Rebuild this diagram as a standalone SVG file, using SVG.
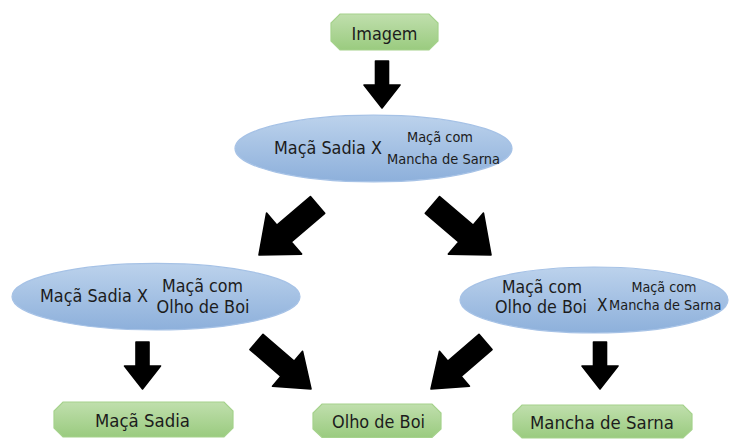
<svg xmlns="http://www.w3.org/2000/svg" xmlns:xlink="http://www.w3.org/1999/xlink" width="733" height="439" viewBox="0 0 733 439">
  <defs>
    <linearGradient id="gBlue" x1="0" y1="0" x2="0" y2="1">
      <stop offset="0" stop-color="#bcd2ec"/>
      <stop offset="1" stop-color="#8db0db"/>
    </linearGradient>
    <linearGradient id="gGreen" x1="0" y1="0" x2="0" y2="1">
      <stop offset="0" stop-color="#c0dfad"/>
      <stop offset="1" stop-color="#9acb7f"/>
    </linearGradient>
    <!-- block arrows, tip at origin, pointing along +x -->
    <path id="arrowBig" d="M0,0 L-33,-27 L-33,-11 L-77,-11 L-77,11 L-33,11 L-33,27 Z"/>
    <path id="arrowMid" d="M0,0 L-31,-23 L-31,-10 L-72,-10 L-72,10 L-31,10 L-31,23 Z"/>
    <path id="arrowDown" d="M0,0 L-23,-18 L-23,-6.5 L-47,-6.5 L-47,6.5 L-23,6.5 L-23,18 Z"/>
  </defs>
  <style>
    .ell { fill: url(#gBlue); stroke: #a6c2e6; stroke-width: 1.2; }
    .box { fill: url(#gGreen); stroke: #a5d28c; stroke-width: 1.2; }
    .t { font-family: "DejaVu Sans", Verdana, sans-serif; fill: #1c1c1c; }
    .big { font-size: 17px; }
    .small { font-size: 13.5px; }
    .lbl { font-size: 17px; }
    .arrows use { fill: #000; stroke: #000; stroke-width: 1.6; stroke-linejoin: round; }
  </style>

  <rect width="733" height="439" fill="#ffffff"/>

  <!-- connectors -->
  <g id="connectors" class="arrows">
    <use xlink:href="#arrowDown" transform="translate(382,108) rotate(90)"/>
    <use xlink:href="#arrowBig" transform="translate(259,255) rotate(139.5)"/>
    <use xlink:href="#arrowBig" transform="translate(491,255) rotate(40.5)"/>
    <use xlink:href="#arrowDown" transform="translate(142.5,389) rotate(90)"/>
    <use xlink:href="#arrowMid" transform="translate(311,389) rotate(40.8)"/>
    <use xlink:href="#arrowMid" transform="translate(431,389) rotate(139.2)"/>
    <use xlink:href="#arrowDown" transform="translate(600,389) rotate(90)"/>
  </g>

  <!-- root -->
  <g id="node-imagem">
    <path class="box" d="M340,14 H429 L438,23 V41 L429,50 H340 L331,41 V23 Z"/>
    <text class="t lbl" x="384.5" y="39.5" text-anchor="middle" textLength="66" lengthAdjust="spacingAndGlyphs">Imagem</text>
  </g>

  <!-- first split -->
  <g id="node-sadia-vs-sarna">
    <ellipse class="ell" cx="373.5" cy="148.5" rx="138.5" ry="33.3"/>
    <text class="t big" x="274" y="154" textLength="108" lengthAdjust="spacingAndGlyphs">Maçã Sadia X</text>
    <text class="t small" x="440" y="141.5" text-anchor="middle" textLength="66" lengthAdjust="spacingAndGlyphs">Maçã com</text>
    <text class="t small" x="387" y="164" textLength="113" lengthAdjust="spacingAndGlyphs">Mancha de Sarna</text>
  </g>

  <!-- second level -->
  <g id="node-sadia-vs-olho">
    <ellipse class="ell" cx="156" cy="296.7" rx="144" ry="33.3"/>
    <text class="t big" x="40" y="302" textLength="108" lengthAdjust="spacingAndGlyphs">Maçã Sadia X</text>
    <text class="t big" x="162" y="292" textLength="81" lengthAdjust="spacingAndGlyphs">Maçã com</text>
    <text class="t big" x="156.5" y="312.5" textLength="93" lengthAdjust="spacingAndGlyphs">Olho de Boi</text>
  </g>

  <g id="node-olho-vs-sarna">
    <ellipse class="ell" cx="594" cy="300" rx="134" ry="33"/>
    <text class="t big" x="502" y="292.5" textLength="80" lengthAdjust="spacingAndGlyphs">Maçã com</text>
    <text class="t big" x="495" y="313" textLength="92" lengthAdjust="spacingAndGlyphs">Olho de Boi</text>
    <text class="t big" x="597" y="310.5" textLength="10.5" lengthAdjust="spacingAndGlyphs">X</text>
    <text class="t small" x="664" y="291.5" text-anchor="middle" textLength="65" lengthAdjust="spacingAndGlyphs">Maçã com</text>
    <text class="t small" x="609" y="310" textLength="112.5" lengthAdjust="spacingAndGlyphs">Mancha de Sarna</text>
  </g>

  <!-- leaves -->
  <g id="node-maca-sadia">
    <path class="box" d="M63,402 H224 L233,411 V428 L224,437 H63 L54,428 V411 Z"/>
    <text class="t lbl" x="142.5" y="427" text-anchor="middle" textLength="95" lengthAdjust="spacingAndGlyphs">Maçã Sadia</text>
  </g>

  <g id="node-olho-de-boi">
    <path class="box" d="M322,404 H432 L441,413 V429 L432,437.5 H322 L313,429 V413 Z"/>
    <text class="t lbl" x="378.5" y="428" text-anchor="middle" textLength="93" lengthAdjust="spacingAndGlyphs">Olho de Boi</text>
  </g>

  <g id="node-mancha-de-sarna">
    <path class="box" d="M522,405 H683 L692,414 V429.5 L683,438 H522 L513,429.5 V414 Z"/>
    <text class="t lbl" x="602" y="429" text-anchor="middle" textLength="144" lengthAdjust="spacingAndGlyphs">Mancha de Sarna</text>
  </g>
</svg>
